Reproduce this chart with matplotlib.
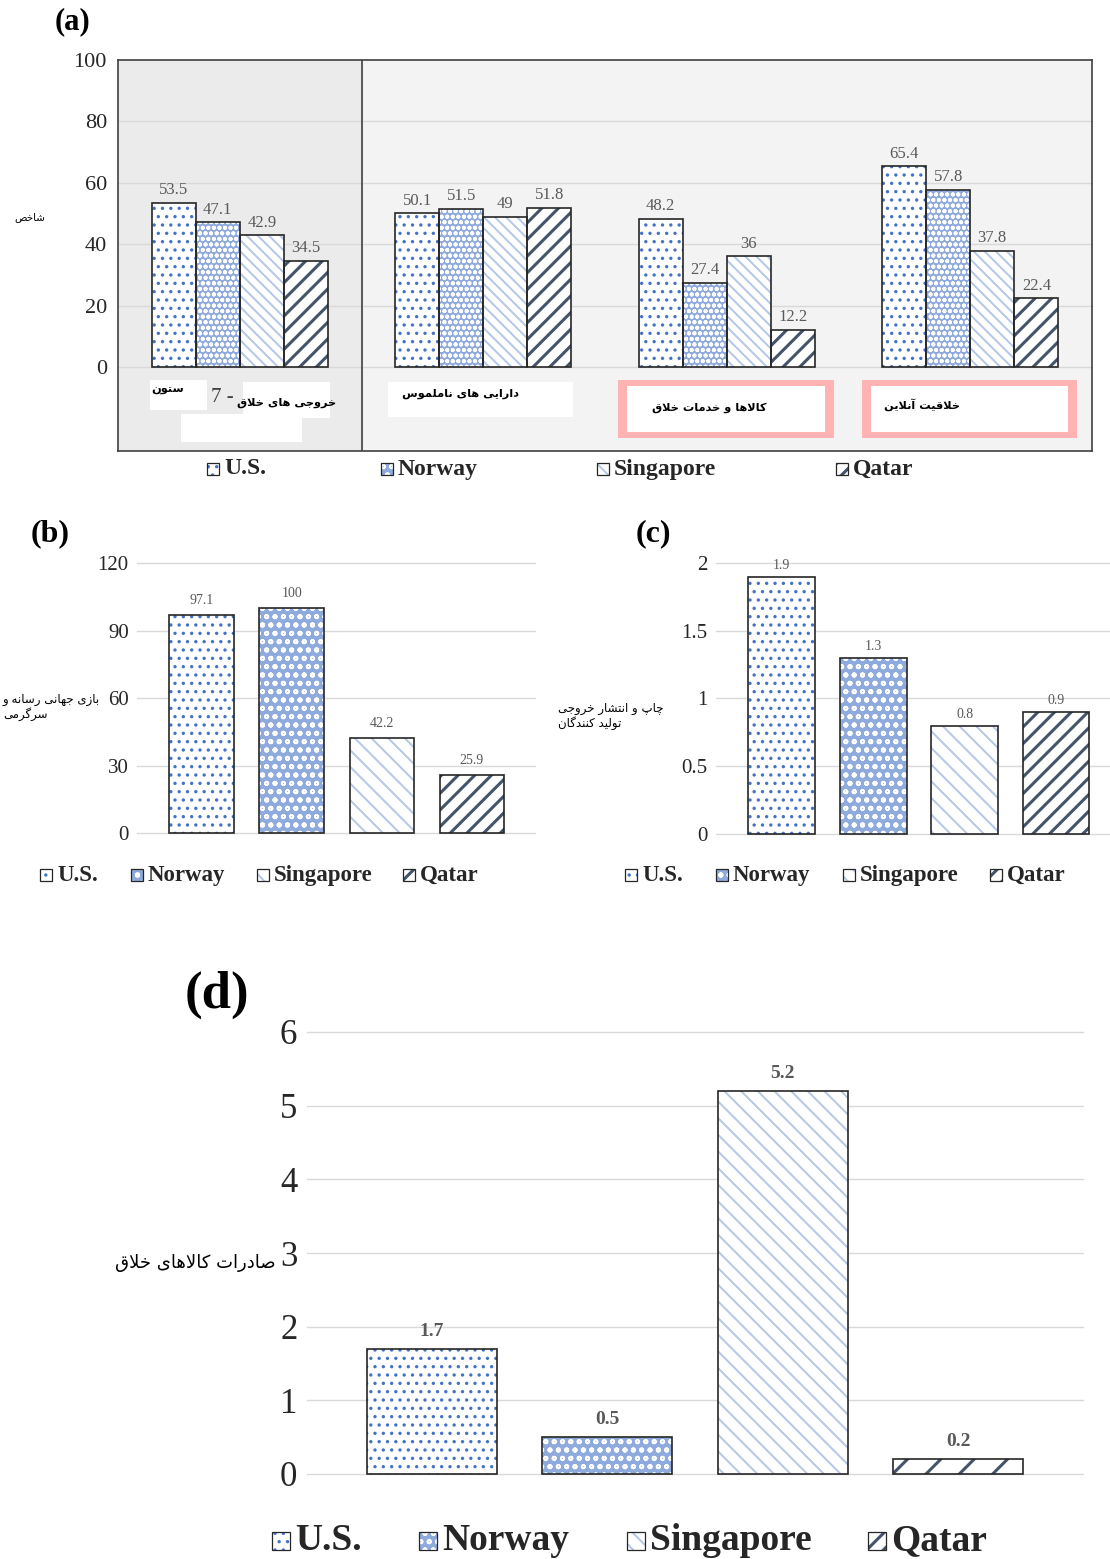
import matplotlib
matplotlib.use("Agg")
import matplotlib.pyplot as plt
from matplotlib.patches import Rectangle
import numpy as np

W, H = 1110, 1559
SERIF = "Liberation Serif"
SANS = "DejaVu Sans"
EDGE = "#262626"
GRID = "#d9d9d9"
VALUE = "#595959"

plt.rcParams["hatch.linewidth"] = 1.3

countries = ["U.S.", "Norway", "Singapore", "Qatar"]

# (a) sub-index scores, one list per country over the four pillars
pillars_a = ["خروجی های خلاق", "دارایی های ناملموس", "کالاها و خدمات خلاق", "خلاقیت آنلاین"]
us_a = [53.5, 50.1, 48.2, 65.4]
norway_a = [47.1, 51.5, 27.4, 57.8]
singapore_a = [42.9, 49, 36, 37.8]
qatar_a = [34.5, 51.8, 12.2, 22.4]

# (b) (c) (d) single indicators, one value per country
media_b = [97.1, 100, 42.2, 25.9]
printing_c = [1.9, 1.3, 0.8, 0.9]
exports_d = [1.7, 0.5, 5.2, 0.2]

ylabel_a = "شاخص"
ylabel_b = "بازی جهانی رسانه و\nسرگرمی"
ylabel_c = "چاپ و انتشار خروجی\nتولید کنندگان"
ylabel_d = "صادرات کالاهای خلاق"

# face, hatch glyph, hatch colour, hatch line width
STYLES = [
    ("#ffffff", ".", "#4472c4", 1.2),
    ("#8faadc", "o", "#ffffff", 1.3),
    ("#ffffff", "\\", "#b4c7e7", 1.4),
    ("#ffffff", "/", "#44546a", 2.2),
]

# --- tiny Persian shaper: contextual forms + right-to-left order ---
DUAL = {'ب': 0xFE8F, 'پ': 0xFB56, 'ت': 0xFE95, 'ث': 0xFE99, 'ج': 0xFE9D,
        'چ': 0xFB7A, 'ح': 0xFEA1, 'خ': 0xFEA5, 'س': 0xFEB1, 'ش': 0xFEB5,
        'ص': 0xFEB9, 'ض': 0xFEBD, 'ط': 0xFEC1, 'ظ': 0xFEC5, 'ع': 0xFEC9,
        'غ': 0xFECD, 'ف': 0xFED1, 'ق': 0xFED5, 'ک': 0xFB8E, 'گ': 0xFB92,
        'ل': 0xFEDD, 'م': 0xFEE1, 'ن': 0xFEE5, 'ه': 0xFEE9, 'ی': 0xFBFC}
RIGHT = {'ا': 0xFE8D, 'آ': 0xFE81, 'د': 0xFEA9, 'ذ': 0xFEAB, 'ر': 0xFEAD,
         'ز': 0xFEAF, 'ژ': 0xFB8A, 'و': 0xFEED}


def shape_line(s):
    out = []
    i = 0
    while i < len(s):
        c = s[i]
        prev = s[i - 1] if i > 0 else ""
        nxt = s[i + 1] if i + 1 < len(s) else ""
        joined = prev in DUAL
        if c == "ل" and nxt in ("ا", "آ"):
            if nxt == "ا":
                out.append(chr(0xFEFC if joined else 0xFEFB))
            else:
                out.append(chr(0xFEF6 if joined else 0xFEF5))
            i += 2
            continue
        if c in DUAL:
            ahead = nxt in DUAL or nxt in RIGHT
            off = 3 if (joined and ahead) else 1 if joined else 2 if ahead else 0
            out.append(chr(DUAL[c] + off))
        elif c in RIGHT:
            out.append(chr(RIGHT[c] + (1 if joined else 0)))
        else:
            out.append(c)
        i += 1
    return "".join(reversed(out))


def fa(text):
    return "\n".join(shape_line(line) for line in text.split("\n"))


def px_axes(fig, left, right, top, bottom):
    return fig.add_axes([left / W, 1 - bottom / H, (right - left) / W, (bottom - top) / H])


def fx(x):
    return x / W


def fy(y):
    return 1 - y / H


def hatch_width(patch, hlw):
    if hasattr(patch, "set_hatch_linewidth"):
        patch.set_hatch_linewidth(hlw)


def draw_bars(ax, x, heights, width, style, dens):
    face, glyph, hcolor, hlw = style
    ax.bar(x, heights, width, color=face, linewidth=0, zorder=2)
    with plt.rc_context({"hatch.linewidth": hlw}):
        layer = ax.bar(x, heights, width, color="none", edgecolor=hcolor,
                       hatch=glyph * dens, linewidth=0, zorder=3)
    for p in layer:
        hatch_width(p, hlw)
    return ax.bar(x, heights, width, color="none", edgecolor=EDGE, linewidth=1.2, zorder=4)


def legend_item(fig, x, y, size, style, dens, label, fontsize):
    face, glyph, hcolor, hlw = style
    box = dict(transform=fig.transFigure, figure=fig)
    corner = (fx(x), fy(y + size / 2))
    fig.patches.append(Rectangle(corner, size / W, size / H, facecolor=face, linewidth=0, **box))
    with plt.rc_context({"hatch.linewidth": hlw}):
        hp = Rectangle(corner, size / W, size / H, facecolor="none",
                       edgecolor=hcolor, hatch=glyph * dens, linewidth=0, **box)
    hatch_width(hp, hlw)
    fig.patches.append(hp)
    fig.patches.append(Rectangle(corner, size / W, size / H,
                                 facecolor="none", edgecolor=EDGE, linewidth=0.9, **box))
    fig.text(fx(x + size + 5), fy(y), label, fontsize=fontsize, family=SERIF,
             weight="bold", va="center", ha="left", color="#262626")


def style_axes(ax, ticks, fontsize, pad):
    ax.set_yticks(ticks)
    ax.set_yticklabels([f"{t:g}" for t in ticks], family=SERIF, fontsize=fontsize, color="#262626")
    ax.tick_params(axis="y", length=0, pad=pad)
    ax.set_xticks([])
    for t in ticks:
        ax.axhline(t, color=GRID, linewidth=1.0, zorder=1, clip_on=False)


fig = plt.figure(figsize=(W / 100, H / 100), dpi=100)

# ---------------- (a) ----------------
ax = px_axes(fig, 118, 1092, 60, 451)
per = (367 - 60) / 100
ax.set_ylim(-(451 - 367) / per, 100)
ax.set_xlim(-0.5, 3.5)
ax.set_facecolor("#f3f3f3")
ax.axvspan(-0.5, 0.5, color="#ebebeb", zorder=0)
ax.axvline(0.5, color="#404040", linewidth=1.2, zorder=5)
style_axes(ax, [0, 20, 40, 60, 80], 16, 8)
ax.set_yticks([0, 20, 40, 60, 80, 100])
ax.set_yticklabels(["0", "20", "40", "60", "80", "100"], family=SERIF, fontsize=16, color="#262626")
for s in ax.spines.values():
    s.set_color("#404040")
    s.set_linewidth(1.2)

bw = 0.181
groups = np.arange(len(pillars_a))
dens_a = [2, 3, 3, 2]
for i, vals in enumerate([us_a, norway_a, singapore_a, qatar_a]):
    xs = groups + (i - 1.5) * bw
    draw_bars(ax, xs, vals, bw, STYLES[i], dens_a[i])
    for x, v in zip(xs, vals):
        ax.text(x, v + 1.5, f"{v:g}", ha="center", va="bottom", family=SERIF,
                fontsize=12, color=VALUE)


# pillar captions in boxes under the bars
def cap_box(l, t, r, b, color="white"):
    fig.patches.append(Rectangle((fx(l), fy(b)), (r - l) / W, (b - t) / H,
                                 transform=fig.transFigure, figure=fig,
                                 facecolor=color, linewidth=0, zorder=3))


cap_box(150, 380, 207, 410)
cap_box(243, 382, 330, 418)
cap_box(181, 414, 302, 442)
cap_box(388, 382, 573, 417)
cap_box(618, 380, 834, 438, "#ffb3b3")
cap_box(627, 386, 825, 432)
cap_box(862, 380, 1077, 438, "#ffb3b3")
cap_box(871, 386, 1068, 432)
cap = dict(family=SANS, fontsize=8.2, weight="bold", va="center")
fig.text(fx(151), fy(390), fa("ستون"), ha="left", **cap)
fig.text(fx(222), fy(398), "7 -", family=SERIF, fontsize=15, va="center", ha="center", color="#404040")
fig.text(fx(287), fy(403), fa(pillars_a[0]), ha="center", **cap)
fig.text(fx(460), fy(394), fa(pillars_a[1]), ha="center", **cap)
fig.text(fx(709), fy(408), fa(pillars_a[2]), ha="center", **cap)
fig.text(fx(922), fy(405), fa(pillars_a[3]), ha="center", **cap)
fig.text(fx(30), fy(217), fa(ylabel_a), family=SANS, fontsize=7.5, va="center", ha="center")
fig.text(fx(73), fy(22), "(a)", family=SERIF, fontsize=22, weight="bold", va="center", ha="center")

for i, (x, name) in enumerate(zip([207, 381, 597, 836], countries)):
    legend_item(fig, x, 469, 12, STYLES[i], 2, name, 17)

# ---------------- (b) ----------------
ax = px_axes(fig, 137, 535, 558, 838)
per = (833 - 563) / 120
ax.set_ylim(-5 / per, 120 + 5 / per)
ax.set_xlim(-0.72, 3.7)
for s in ax.spines.values():
    s.set_visible(False)
style_axes(ax, [0, 30, 60, 90, 120], 15, 6)
pos = np.arange(len(countries))
for i in range(len(countries)):
    draw_bars(ax, [pos[i]], [media_b[i]], 0.72, STYLES[i], 2)
    ax.text(pos[i], media_b[i] + 3.5, f"{media_b[i]:g}", ha="center", va="bottom",
            family=SERIF, fontsize=10, color=VALUE)
fig.text(fx(3), fy(707), fa(ylabel_b), family=SANS, fontsize=8.5, va="center",
         ha="left", multialignment="left", linespacing=1.15)
fig.text(fx(50), fy(534), "(b)", family=SERIF, fontsize=23, weight="bold", va="center", ha="center")
for i, (x, name) in enumerate(zip([40, 131, 257, 403], countries)):
    legend_item(fig, x, 875, 12, STYLES[i], 2, name, 16.5)

# ---------------- (c) ----------------
ax = px_axes(fig, 716, 1110, 558, 839)
per = (834 - 563) / 2
ax.set_ylim(-5 / per, 2 + 5 / per)
ax.set_xlim(-0.72, 3.59)
for s in ax.spines.values():
    s.set_visible(False)
style_axes(ax, [0, 0.5, 1, 1.5, 2], 15, 6)
for i in range(len(countries)):
    draw_bars(ax, [pos[i]], [printing_c[i]], 0.73, STYLES[i], 2)
    ax.text(pos[i], printing_c[i] + 0.035, f"{printing_c[i]:g}", ha="center", va="bottom",
            family=SERIF, fontsize=10, color=VALUE)
fig.text(fx(558), fy(716), fa(ylabel_c), family=SANS, fontsize=8.5, va="center",
         ha="left", multialignment="left", linespacing=1.15)
fig.text(fx(653), fy(534), "(c)", family=SERIF, fontsize=23, weight="bold", va="center", ha="center")
for i, (x, name) in enumerate(zip([625, 716, 843, 990], countries)):
    legend_item(fig, x, 875, 12, STYLES[i], 2, name, 16.5)

# ---------------- (d) ----------------
ax = px_axes(fig, 307, 1083, 1027, 1479)
per = (1474 - 1032) / 6
ax.set_ylim(-5 / per, 6 + 5 / per)
ax.set_xlim(-0.71, 3.71)
for s in ax.spines.values():
    s.set_visible(False)
style_axes(ax, [0, 1, 2, 3, 4, 5, 6], 25, 7)
dens_d = [2, 2, 2, 1]
for i in range(len(countries)):
    draw_bars(ax, [pos[i]], [exports_d[i]], 0.74, STYLES[i], dens_d[i])
    ax.text(pos[i], exports_d[i] + 0.12, f"{exports_d[i]:g}", ha="center", va="bottom",
            family=SERIF, fontsize=14, weight="bold", color=VALUE)
fig.text(fx(276), fy(1263), fa(ylabel_d), family=SANS, fontsize=13, va="center", ha="right")
fig.text(fx(217), fy(995), "(d)", family=SERIF, fontsize=38, weight="bold", va="center", ha="center")
for i, (x, name) in enumerate(zip([272, 419, 627, 868], countries)):
    legend_item(fig, x, 1541, 18, STYLES[i], 2, name, 27)

fig.savefig("out.png", dpi=100)
